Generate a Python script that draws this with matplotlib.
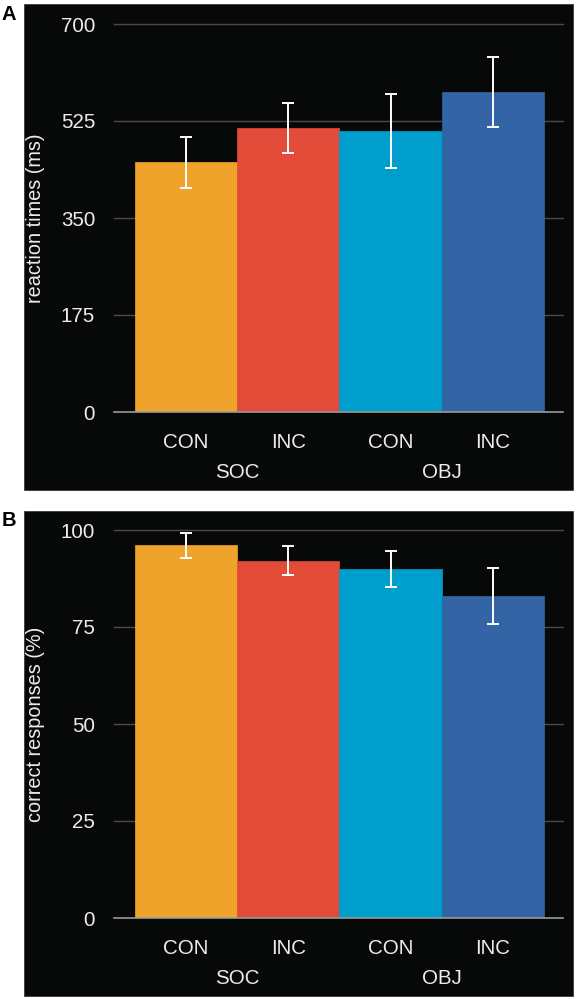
import matplotlib.pyplot as plt
from matplotlib.patches import Rectangle

plt.rcParams['font.family'] = ['Liberation Sans', 'DejaVu Sans']

# Data
conditions = ['CON', 'INC', 'CON', 'INC']
groups = ['SOC', 'OBJ']
colors = ['#F0A32B', '#E34B39', '#009ECD', '#3364A6']

rt_mean = [451, 512, 507, 577]
rt_err = [46, 45, 66, 63]
rt_ticks = [0, 175, 350, 525, 700]

acc_mean = [96.1, 92.1, 90.0, 83.0]
acc_err = [3.2, 3.8, 4.7, 7.2]
acc_ticks = [0, 25, 50, 75, 100]

W, H = 576, 999
bg = '#070909'
txt = '#ececec'
fs = 14.8

fig = plt.figure(figsize=(W / 100, H / 100), dpi=100)
fig.patch.set_facecolor('white')


def px(x0, y0, x1, y1):
    # pixel box (top-left origin) -> figure fraction rect
    return [x0 / W, 1 - y1 / H, (x1 - x0) / W, (y1 - y0) / H]


def panel(box, axbox, means, errs, ticks, ylabel, letter, letter_y):
    r = px(*box)
    fig.patches.append(Rectangle((r[0], r[1]), r[2], r[3], transform=fig.transFigure,
                                 facecolor=bg, edgecolor='#3a3a3a', linewidth=0.6, zorder=-5))
    fig.text(2 / W, 1 - letter_y / H, letter, fontsize=14.5, fontweight='bold',
             color='black', va='center', ha='left')

    ax = fig.add_axes(px(*axbox))
    ax.set_zorder(2)
    ax.set_facecolor('none')
    x = range(len(means))
    ax.bar(x, means, width=1.0, color=colors, edgecolor=colors, linewidth=0.5, zorder=2)
    ax.errorbar(x, means, yerr=errs, fmt='none', ecolor='white', elinewidth=1.4,
                capsize=4.5, capthick=1.4, zorder=3)

    ax.set_ylim(ticks[0], ticks[-1])
    ax.set_xlim(-0.705, 3.686)
    ax.set_yticks(ticks)
    ax.set_yticklabels([str(t) for t in ticks])
    ax.tick_params(axis='y', length=0, pad=13.5, labelsize=fs, labelcolor=txt)
    ax.set_xticks([])
    for t in ticks[1:]:
        ax.axhline(t, color='#4a4a4a', linewidth=1.0, zorder=1, clip_on=False)
    ax.axhline(0, color='#9a9a9a', linewidth=1.2, zorder=4, clip_on=False)
    for s in ax.spines.values():
        s.set_visible(False)

    ax.set_ylabel(ylabel, fontsize=14.3, color=txt)
    ax.yaxis.set_label_coords((45 - axbox[0]) / (axbox[2] - axbox[0]), 0.5)

    for i, c in enumerate(conditions):
        ax.annotate(c, xy=(i, 0), xycoords=('data', 'axes fraction'), xytext=(0, -30),
                    textcoords='offset pixels', ha='center', va='center',
                    fontsize=fs, color=txt)
    for j, g in enumerate(groups):
        ax.annotate(g, xy=(2 * j + 0.5, 0), xycoords=('data', 'axes fraction'),
                    xytext=(0, -60), textcoords='offset pixels', ha='center',
                    va='center', fontsize=fs, color=txt)
    return ax


panel((24, 4, 573, 490), (114, 24, 563, 412), rt_mean, rt_err, rt_ticks,
      'reaction times (ms)', 'A', 14)
panel((24, 511, 573, 996), (114, 530, 563, 918), acc_mean, acc_err, acc_ticks,
      'correct responses (%)', 'B', 521)

fig.savefig('out.png', dpi=100, facecolor='white')
